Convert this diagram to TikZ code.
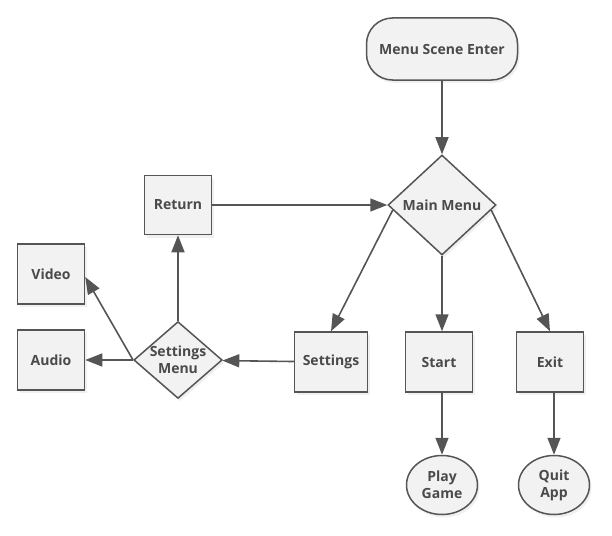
\documentclass[tikz,border=0pt]{standalone}
\usepackage{fontspec}
\setmainfont{Open Sans}
\usetikzlibrary{arrows.meta, shapes.geometric, shadows, calc}

\definecolor{boxfill}{HTML}{F2F2F2}
\definecolor{boxline}{HTML}{555555}
\definecolor{boxtext}{HTML}{4A4A4A}

\begin{document}
\begin{tikzpicture}[
  x=1pt, y=-1pt,
  base/.style={
    draw=boxline, fill=boxfill, line width=1.5pt,
    align=center, font=\fontsize{14}{17}\selectfont\bfseries,
    text=boxtext, inner sep=0pt,
    drop shadow={opacity=0.12, shadow xshift=2pt, shadow yshift=-3pt}
  },
  term/.style={base, rounded corners=26pt,
    minimum width=151pt, minimum height=62pt},
  procbox/.style={base, rectangle,
    minimum width=67pt, minimum height=59pt},
  dec/.style={base, diamond, aspect=1.08,
    minimum width=108pt, minimum height=100pt},
  smalldec/.style={base, diamond, aspect=1.15,
    minimum width=76pt, minimum height=66pt},
  endnode/.style={base, ellipse,
    minimum width=71pt, minimum height=59pt},
  arr/.style={-{Triangle[length=17pt, width=13pt]}, line width=1.6pt, draw=boxline}
]
  \useasboundingbox (0,0) rectangle (612,535);

  % top of the menu
  \node[term] (enter) at (442,49) {Menu Scene Enter};
  \node[dec] (main) at (442,205) {Main Menu};
  \node[procbox] (ret) at (178,205) {Return};

  % options row
  \node[procbox, minimum width=73pt, minimum height=60pt] (sett) at (331,362) {Settings};
  \node[procbox, minimum height=60pt] (start) at (439,362) {Start};
  \node[procbox, minimum height=60pt] (exit) at (550,362) {Exit};

  % settings submenu
  \node[smalldec] (smenu) at (178,360) {Settings\\Menu};
  \node[procbox, minimum height=60pt] (video) at (51,274) {Video};
  \node[procbox, minimum height=60pt] (audio) at (51,360) {Audio};

  % end states
  \node[endnode] (play) at (442,485) {Play\\Game};
  \node[endnode] (quit) at (554,485) {Quit\\App};

  \draw[arr] (enter) -- (main);
  \draw[arr] (ret) -- (main);
  \draw[arr] ($(main.west)!0.1!(main.south)$) -- (sett.north);
  \draw[arr] (main.south) -- (main.south |- start.north);
  \draw[arr] ($(main.east)!0.1!(main.south)$) -- (exit.north);
  \draw[arr] (sett) -- (smenu);
  \draw[arr] (smenu) -- (ret);
  \draw[arr] (smenu.west) -- (audio);
  \draw[arr] (smenu.west) -- ([yshift=-3pt]video.east);
  \draw[arr] (play.north |- start.south) -- (play);
  \draw[arr] (quit.north |- exit.south) -- (quit);
\end{tikzpicture}
\end{document}
